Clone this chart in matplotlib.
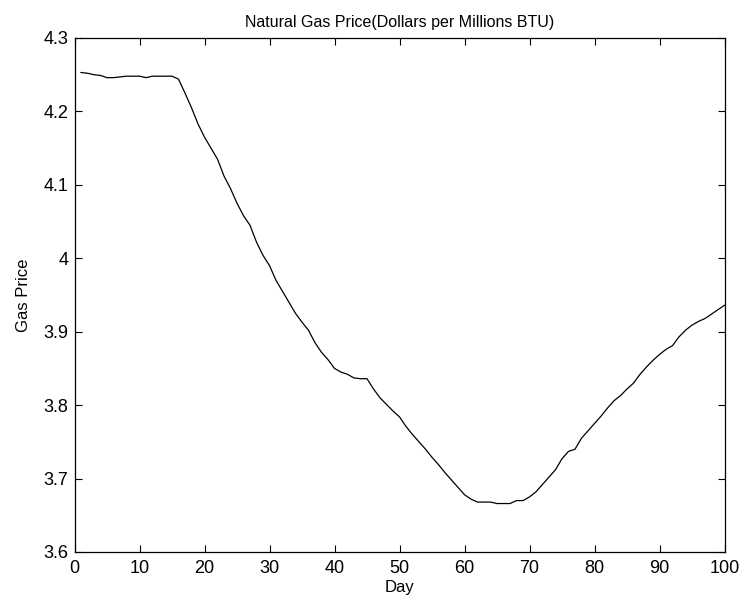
import numpy as np
import matplotlib
matplotlib.use("Agg")
import matplotlib.pyplot as plt
import matplotlib.ticker as mticker

plt.rcParams["font.family"] = ["Liberation Sans", "DejaVu Sans"]

days = np.arange(1, 101)
price = [
    4.253, 4.252, 4.250, 4.249, 4.246, 4.246, 4.247, 4.248, 4.248, 4.248,
    4.246, 4.248, 4.248, 4.248, 4.248, 4.244, 4.225, 4.205, 4.183, 4.165,
    4.150, 4.135, 4.112, 4.095, 4.075, 4.058, 4.045, 4.022, 4.004, 3.990,
    3.970, 3.955, 3.940, 3.925, 3.913, 3.902, 3.885, 3.872, 3.862, 3.850,
    3.845, 3.842, 3.837, 3.836, 3.836, 3.822, 3.810, 3.801, 3.792, 3.784,
    3.771, 3.760, 3.750, 3.740, 3.729, 3.719, 3.708, 3.698, 3.688, 3.678,
    3.672, 3.668, 3.668, 3.668, 3.666, 3.666, 3.666, 3.670, 3.670, 3.675,
    3.682, 3.692, 3.702, 3.712, 3.727, 3.737, 3.740, 3.755, 3.765, 3.775,
    3.785, 3.796, 3.806, 3.813, 3.822, 3.830, 3.842, 3.852, 3.861, 3.869,
    3.876, 3.881, 3.893, 3.902, 3.909, 3.914, 3.918, 3.924, 3.930, 3.936,
]

xticks = np.arange(0, 101, 10)
yticks = [3.6, 3.7, 3.8, 3.9, 4.0, 4.1, 4.2, 4.3]

fig = plt.figure(figsize=(7.43, 6.09), dpi=100)
ax = fig.add_axes([74.5 / 743, 1 - 552 / 609, 650 / 743, 514 / 609])

ax.plot(days, price, color="black", linewidth=0.9)

ax.set_xlim(0, 100)
ax.set_ylim(3.6, 4.3)
ax.set_xticks(xticks)
ax.set_yticks(yticks)
ax.yaxis.set_major_formatter(mticker.FuncFormatter(lambda v, _: f"{v:g}"))
ax.tick_params(direction="in", top=True, right=True, length=5, width=0.8,
               labelsize=13)
ax.tick_params(axis="x", pad=6)
ax.tick_params(axis="y", pad=4.5)
for spine in ax.spines.values():
    spine.set_linewidth(0.9)

ax.set_title("Natural Gas Price(Dollars per Millions BTU)", fontsize=11.5, pad=8)
ax.set_xlabel("Day", fontsize=12, labelpad=2)
ax.set_ylabel("Gas Price", fontsize=12, labelpad=9)

fig.savefig("out.png", dpi=100)
